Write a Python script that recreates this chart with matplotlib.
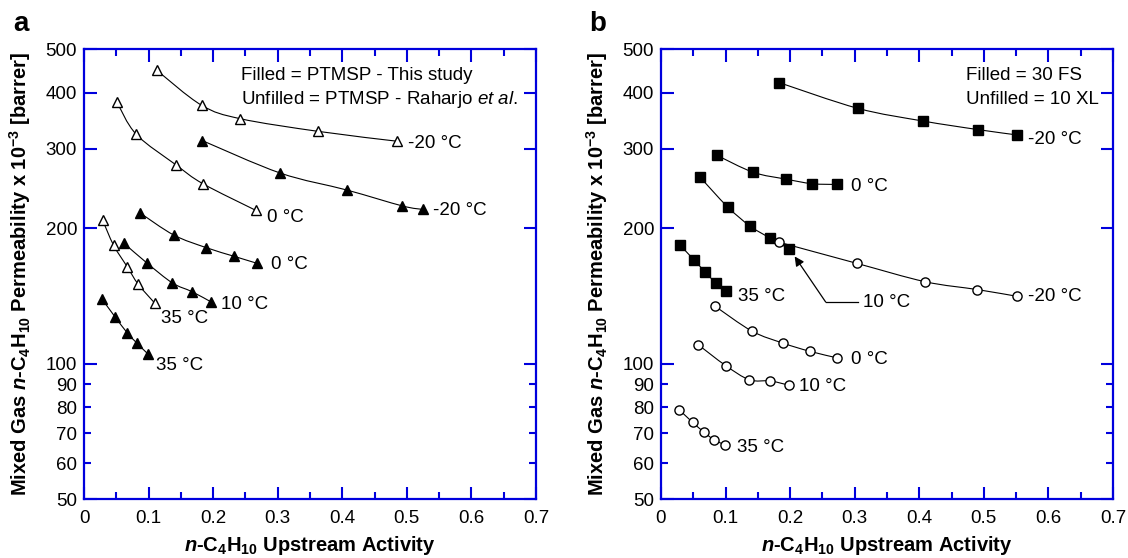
import numpy as np
import matplotlib
matplotlib.use('Agg')
import matplotlib.pyplot as plt
from matplotlib.path import Path
from matplotlib.patches import PathPatch
from matplotlib.ticker import FixedLocator, FuncFormatter

plt.rcParams['font.family'] = ['Liberation Sans', 'DejaVu Sans']
plt.rcParams['mathtext.fontset'] = 'custom'
plt.rcParams['mathtext.rm'] = 'Liberation Sans'
plt.rcParams['mathtext.it'] = 'Liberation Sans:italic'
plt.rcParams['mathtext.bf'] = 'Liberation Sans:bold'
try:
    plt.rcParams['mathtext.bfit'] = 'Liberation Sans:bold:italic'
except KeyError:
    pass

# ---------------- data: panel a (PTMSP) ----------------
a_xu_m20 = [0.113, 0.182, 0.242, 0.363, 0.484]
a_yu_m20 = [448, 375, 350, 328, 312]
a_xf_m20 = [0.183, 0.304, 0.407, 0.493, 0.525]
a_yf_m20 = [313, 265, 243, 224, 220]
a_xu_0 = [0.051, 0.081, 0.143, 0.184, 0.266]
a_yu_0 = [381, 323, 276, 251, 219]
a_xf_0 = [0.087, 0.139, 0.189, 0.233, 0.268]
a_yf_0 = [216, 193, 181, 173, 167]
a_xf_10 = [0.062, 0.098, 0.137, 0.167, 0.197]
a_yf_10 = [185, 167, 151, 144.5, 137]
a_xu_35 = [0.029, 0.046, 0.067, 0.084, 0.110]
a_yu_35 = [208, 183, 164, 150, 136]
a_xf_35 = [0.028, 0.048, 0.067, 0.082, 0.099]
a_yf_35 = [139, 127, 117, 111, 105]

# ---------------- data: panel b (30 FS / 10 XL) ----------------
b_xf_m20 = [0.183, 0.305, 0.405, 0.491, 0.552]
b_yf_m20 = [421, 369, 346, 331, 322]
b_xf_0 = [0.087, 0.143, 0.193, 0.234, 0.273]
b_yf_0 = [290, 266, 257, 251, 250]
b_xf_10 = [0.060, 0.103, 0.138, 0.169, 0.198]
b_yf_10 = [260, 223, 202, 190, 180]
b_xf_35 = [0.030, 0.051, 0.068, 0.085, 0.101]
b_yf_35 = [183, 170, 160, 151, 145]
b_xu_m20 = [0.183, 0.303, 0.409, 0.490, 0.552]
b_yu_m20 = [186, 167, 152, 146, 141]
b_xu_0 = [0.084, 0.141, 0.189, 0.230, 0.272]
b_yu_0 = [134, 118, 111, 106.5, 103]
b_xu_10 = [0.058, 0.100, 0.137, 0.169, 0.198]
b_yu_10 = [110, 99, 92, 91.5, 89.5]
b_xu_35 = [0.028, 0.049, 0.066, 0.082, 0.099]
b_yu_35 = [79, 74, 70.5, 67.7, 66]

x_ticks = [0, 0.1, 0.2, 0.3, 0.4, 0.5, 0.6, 0.7]
x_minor = [0.05, 0.15, 0.25, 0.35, 0.45, 0.55, 0.65]
y_major = [50, 100, 200, 300, 400, 500]
y_minor = [60, 70, 80, 90]

BLUE = '#0000DD'
FS = 13.5
LFS = 14.5


def smooth_line(ax, x, y):
    x = np.asarray(x, float)
    ly = np.log10(np.asarray(y, float))
    P = np.column_stack([x, ly])
    Pe = np.vstack([P[0], P, P[-1]])
    verts = [P[0]]
    codes = [Path.MOVETO]
    for i in range(len(P) - 1):
        p0, p1, p2, p3 = Pe[i], Pe[i + 1], Pe[i + 2], Pe[i + 3]
        c1 = p1 + (p2 - p0) / 6.0
        c2 = p2 - (p3 - p1) / 6.0
        verts += [c1, c2, p2]
        codes += [Path.CURVE4] * 3
    V = np.array(verts)
    V[:, 1] = 10 ** V[:, 1]
    ax.add_patch(PathPatch(Path(V, codes), fill=False, edgecolor='black',
                           linewidth=0.8, zorder=2))


def series(ax, x, y, marker, filled, ms):
    smooth_line(ax, x, y)
    ax.plot(x, y, linestyle='none', marker=marker, markersize=ms,
            markerfacecolor='black' if filled else 'white',
            markeredgecolor='black', markeredgewidth=1.0, zorder=3)


def style(ax):
    ax.set_xlim(0, 0.7)
    ax.set_yscale('log')
    ax.set_ylim(50, 500)
    ax.xaxis.set_major_locator(FixedLocator(x_ticks))
    ax.xaxis.set_minor_locator(FixedLocator(x_minor))
    ax.xaxis.set_major_formatter(FuncFormatter(lambda v, p: '0' if v == 0 else f'{v:.1f}'))
    ax.yaxis.set_major_locator(FixedLocator(y_major))
    ax.yaxis.set_minor_locator(FixedLocator(y_minor))
    ax.yaxis.set_major_formatter(FuncFormatter(lambda v, p: f'{v:.0f}'))
    ax.yaxis.set_minor_formatter(FuncFormatter(lambda v, p: f'{v:.0f}'))
    for s in ax.spines.values():
        s.set_color(BLUE)
        s.set_linewidth(1.6)
    ax.tick_params(which='both', direction='in', top=True, right=True,
                   color=BLUE, width=1.5, labelsize=FS, labelcolor='black')
    ax.tick_params(axis='x', which='both', pad=8)
    ax.tick_params(axis='y', which='both', pad=5)
    ax.tick_params(which='major', length=9)
    ax.tick_params(which='minor', length=5)
    ax.set_xlabel(r'$\mathbfit{n}$-C$_\mathbf{4}$H$_\mathbf{10}$ Upstream Activity',
                  fontsize=LFS, fontweight='bold')
    ax.set_ylabel(r'Mixed Gas $\mathbfit{n}$-C$_\mathbf{4}$H$_\mathbf{10}$ Permeability x 10$^\mathbf{-3}$ [barrer]',
                  fontsize=LFS, fontweight='bold')
    ax.yaxis.set_label_coords(-0.113, 0.5)
    ax.xaxis.set_label_coords(0.5, -0.078)


fig = plt.figure(figsize=(11.28, 5.58), dpi=100)
axa = fig.add_axes([84 / 1128, 1 - 499 / 558, 452 / 1128, 450 / 558])
axb = fig.add_axes([661 / 1128, 1 - 499 / 558, 452 / 1128, 450 / 558])

# panel a
TRI = 7.8
series(axa, a_xu_m20, a_yu_m20, '^', False, TRI)
series(axa, a_xf_m20, a_yf_m20, '^', True, TRI)
series(axa, a_xu_0, a_yu_0, '^', False, TRI)
series(axa, a_xf_0, a_yf_0, '^', True, TRI)
series(axa, a_xf_10, a_yf_10, '^', True, TRI)
series(axa, a_xu_35, a_yu_35, '^', False, TRI)
series(axa, a_xf_35, a_yf_35, '^', True, TRI)
style(axa)

tk = dict(fontsize=FS, ha='left', va='center')
axa.text(0.501, 309, '-20 °C', **tk)
axa.text(0.541, 219, '-20 °C', **tk)
axa.text(0.284, 211, '0 °C', **tk)
axa.text(0.289, 166, '0 °C', **tk)
axa.text(0.212, 135, '10 °C', **tk)
axa.text(0.119, 126, '35 °C', **tk)
axa.text(0.112, 99, '35 °C', **tk)
axa.text(0.243, 436, 'Filled = PTMSP - This study', **tk)
axa.text(0.243, 387, r'Unfilled = PTMSP - Raharjo $\mathit{et\ al}$.', **tk)

# panel b
SQ = 7.6
CI = 6.6
series(axb, b_xf_m20, b_yf_m20, 's', True, SQ)
series(axb, b_xf_0, b_yf_0, 's', True, SQ)
series(axb, b_xf_10, b_yf_10, 's', True, SQ)
series(axb, b_xf_35, b_yf_35, 's', True, SQ)
series(axb, b_xu_m20, b_yu_m20, 'o', False, CI)
series(axb, b_xu_0, b_yu_0, 'o', False, CI)
series(axb, b_xu_10, b_yu_10, 'o', False, CI)
series(axb, b_xu_35, b_yu_35, 'o', False, CI)
style(axb)

axb.text(0.568, 314, '-20 °C', **tk)
axb.text(0.295, 248, '0 °C', **tk)
axb.text(0.120, 141, '35 °C', **tk)
axb.text(0.568, 141, '-20 °C', **tk)
axb.text(0.295, 102, '0 °C', **tk)
axb.text(0.213, 89, '10 °C', **tk)
axb.text(0.118, 65, '35 °C', **tk)
axb.text(0.313, 137, '10 °C', **tk)
axb.plot([0.305, 0.255], [137, 137], color='black', lw=0.9, zorder=2)
axb.annotate('', xy=(0.207, 173), xytext=(0.255, 137),
             arrowprops=dict(arrowstyle='-|>', color='black', lw=0.9,
                             mutation_scale=14, shrinkA=0, shrinkB=0))
axb.text(0.472, 436, 'Filled = 30 FS', **tk)
axb.text(0.472, 387, 'Unfilled = 10 XL', **tk)

fig.text(13 / 1128, 1 - 24 / 558, 'a', fontsize=20, fontweight='bold', va='center', ha='left')
fig.text(589 / 1128, 1 - 24 / 558, 'b', fontsize=20, fontweight='bold', va='center', ha='left')

fig.savefig('out.png', dpi=100)
